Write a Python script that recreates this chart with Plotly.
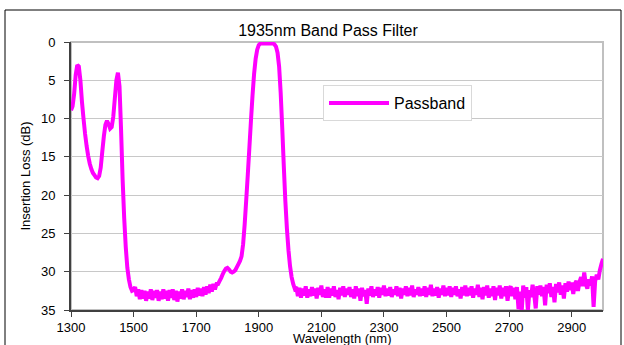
import plotly.graph_objects as go

# ---- data ----
wl_edge = [1300, 1305, 1310, 1315, 1320, 1325, 1330, 1335, 1340, 1345,
           1350, 1355, 1360, 1365, 1370, 1375, 1380, 1385, 1390, 1395,
           1400, 1405, 1410, 1415, 1420, 1425, 1430, 1435, 1440, 1445,
           1450, 1455, 1460, 1465, 1470, 1475, 1480, 1485, 1490, 1495]
il_edge = [8.9, 8.4, 6.8, 4.3, 3.0, 3.2, 5.0, 7.8, 10.0, 12.0,
           13.6, 14.9, 15.9, 16.6, 17.1, 17.4, 17.7, 17.8, 17.5, 16.4,
           14.3, 12.3, 10.8, 10.3, 10.7, 11.3, 11.1, 9.8, 7.4, 5.0,
           4.0, 5.8, 11.5, 18.0, 23.0, 26.8, 29.5, 31.0, 32.0, 32.5]

wl_floor_a = list(range(1500, 1770, 5))
il_floor_a = [32.4, 32.0, 33.2, 32.3, 33.6, 32.4, 33.5, 32.5, 33.8, 32.6,
              33.5, 32.3, 33.7, 32.5, 33.4, 32.4, 33.8, 32.6, 33.6, 32.3,
              33.5, 32.5, 33.8, 32.4, 33.4, 32.3, 33.7, 32.5, 33.9, 32.6,
              33.5, 32.3, 33.6, 32.5, 33.3, 32.2, 33.6, 32.4, 33.4, 32.3,
              33.3, 32.1, 33.1, 32.2, 33.2, 32.0, 33.0, 31.9, 32.8, 31.7,
              32.6, 31.6, 32.3, 31.6]

wl_pass = [1770, 1775, 1780, 1785, 1790, 1795, 1800, 1805, 1810, 1815,
           1820, 1825, 1830, 1835, 1840, 1845, 1850, 1855, 1860, 1865,
           1870, 1875, 1880, 1885, 1890, 1895, 1900, 1905, 1915, 1925,
           1935, 1945, 1950, 1955, 1960, 1965, 1970, 1975, 1980, 1985,
           1990, 1995, 2000, 2005, 2010, 2015]
il_pass = [31.6, 31.2, 30.8, 30.3, 29.9, 29.6, 29.5, 29.7, 30.0, 30.1,
           30.0, 29.8, 29.4, 29.0, 28.6, 28.0, 26.4, 23.8, 20.6, 17.3,
           13.8, 10.3, 7.0, 4.2, 2.2, 1.0, 0.4, 0.2, 0.2, 0.2,
           0.2, 0.2, 0.3, 0.6, 1.4, 3.2, 6.6, 11.2, 16.2, 20.8,
           24.4, 27.2, 29.3, 30.7, 31.6, 32.2]

wl_floor_b = list(range(2020, 2705, 5))
il_floor_b = [32.0, 33.2, 32.1, 33.4, 32.2, 33.1, 31.9, 33.4, 32.3, 33.2,
              32.0, 33.1, 32.2, 33.5, 32.1, 33.0, 31.8, 33.3, 32.3, 33.4,
              32.0, 33.4, 32.2, 33.1, 31.9, 33.3, 32.4, 33.6, 32.1, 33.1,
              31.9, 33.3, 32.2, 33.0, 32.0, 33.3, 32.3, 33.5, 31.9, 33.2,
              32.2, 33.8, 32.1, 33.2, 32.4, 34.2, 32.2, 33.1, 31.9, 33.3,
              32.3, 33.1, 32.0, 33.4, 32.1, 33.0, 31.8, 33.2, 32.2, 33.1,
              32.0, 33.3, 32.3, 33.0, 31.9, 33.2, 32.1, 33.5, 32.2, 33.0,
              31.9, 33.2, 32.1, 33.1, 31.8, 33.3, 32.3, 33.0, 32.0, 33.2,
              32.2, 33.1, 31.9, 33.3, 32.1, 33.0, 31.7, 33.2, 32.2, 33.1,
              32.0, 33.4, 32.2, 33.0, 31.8, 33.2, 32.1, 33.1, 31.9, 33.3,
              32.1, 33.0, 31.9, 33.2, 32.3, 33.5, 32.0, 33.1, 31.8, 33.2,
              32.1, 33.1, 31.9, 33.4, 32.2, 33.0, 31.7, 33.3, 32.1, 33.6,
              32.0, 33.1, 31.8, 33.4, 32.2, 33.2, 31.9, 33.7, 32.1, 33.1,
              31.8, 33.5, 32.1, 33.2, 31.9, 33.8, 32.2]

wl_floor_c = list(range(2705, 3005, 5))
il_floor_c = [31.9, 33.2, 32.1, 33.6, 32.0, 34.9, 32.6, 35.3, 31.8, 33.4,
              32.0, 35.1, 32.4, 33.3, 31.7, 32.9, 34.8, 31.9, 33.0, 31.8,
              33.2, 32.0, 34.4, 31.7, 32.8, 31.5, 33.3, 32.0, 34.0, 31.6,
              32.7, 31.4, 33.0, 31.8, 33.5, 31.5, 32.6, 31.3, 32.4, 31.4,
              32.9, 31.6, 31.2, 32.5, 31.3, 30.7, 31.9, 30.1, 31.6, 32.2,
              31.0, 31.8, 30.6, 34.6, 31.2, 30.4, 31.0, 29.8, 29.0, 28.3]

wavelength = wl_edge + wl_floor_a + wl_pass + wl_floor_b + wl_floor_c
insertion_loss = il_edge + il_floor_a + il_pass + il_floor_b + il_floor_c

x_ticks = [1300, 1500, 1700, 1900, 2100, 2300, 2500, 2700, 2900]
y_ticks = [0, 5, 10, 15, 20, 25, 30, 35]

# ---- figure ----
W, H = 624, 345
L, R, T, B = 71, 21, 42, 35
pw, ph = W - L - R, H - T - B

def px(xp):
    return (xp - L) / pw

def py(yp):
    return (H - B - yp) / ph

fig = go.Figure()
fig.add_trace(go.Scatter(
    x=wavelength, y=insertion_loss, mode="lines", name="Passband",
    line=dict(color="#FF00FF", width=4, simplify=False),
))

fig.update_layout(
    width=W, height=H,
    margin=dict(l=L, r=R, t=T, b=B, autoexpand=False),
    paper_bgcolor="white", plot_bgcolor="white",
    font=dict(family="Liberation Sans, Arial, sans-serif", color="black", size=13),
    title=dict(text="1935nm Band Pass Filter", font=dict(size=16),
               xref="container", x=328 / W, xanchor="center",
               yref="container", y=1 - 30 / H, yanchor="middle"),
    showlegend=True,
    legend=dict(x=px(323), y=py(85), xanchor="left", yanchor="top",
                bordercolor="#d9d9d9", borderwidth=1, bgcolor="white",
                font=dict(size=16), itemwidth=60),
    xaxis=dict(range=[1300, 3000], tickvals=x_ticks, ticks="outside", ticklen=5,
               tickcolor="#404040", showline=True, linecolor="#404040", linewidth=2,
               showgrid=False, zeroline=False, tickfont=dict(size=13),
               ticklabelstandoff=-1, automargin=False),
    yaxis=dict(range=[35, 0], tickvals=y_ticks, ticks="outside", ticklen=5,
               tickcolor="#404040", showline=True, linecolor="#404040", linewidth=2,
               showgrid=True, gridcolor="#c8c8c8", gridwidth=1, zeroline=False,
               tickfont=dict(size=13), ticklabelstandoff=6, automargin=False,
               title=dict(text="Insertion Loss (dB)", font=dict(size=13), standoff=7)),
    annotations=[
        dict(text="Wavelength (nm)", xref="paper", yref="paper",
             x=px(342), y=py(338.5), xanchor="center", yanchor="middle",
             showarrow=False, font=dict(size=13)),
    ],
    shapes=[
        dict(type="rect", xref="paper", yref="paper", x0=0, x1=1, y0=0, y1=1,
             line=dict(color="#c0c0c0", width=2), layer="below"),
        dict(type="rect", xref="paper", yref="paper",
             x0=px(5), x1=px(621), y0=py(360), y1=py(10),
             line=dict(color="black", width=1), fillcolor="rgba(0,0,0,0)"),
    ],
)

fig.write_html("out.html", config={"displayModeBar": False},
               post_script="document.body.style.margin='0';document.body.style.overflow='hidden';")
